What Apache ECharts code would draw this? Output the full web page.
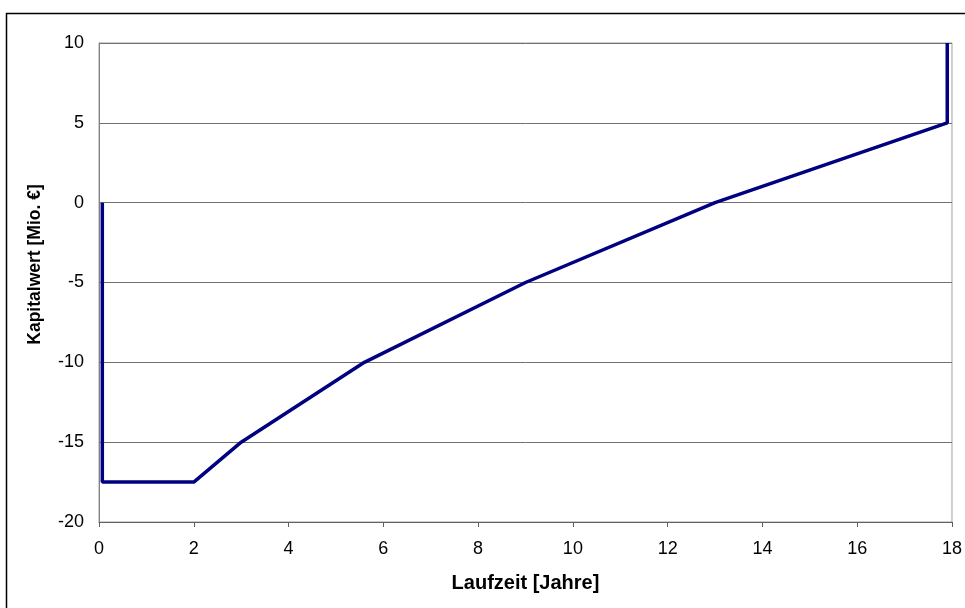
<!DOCTYPE html>
<html><head><meta charset="utf-8">
<script src="https://cdn.jsdelivr.net/npm/echarts@6/dist/echarts.min.js"></script>
<style>html,body{margin:0;padding:0;background:#fff}#c{width:965px;height:608px}</style>
</head><body><div id="c"></div>
<script>
const xValues = [0.07, 0.07, 2, 3, 5.6, 9, 13, 17.9, 17.9];
const yValues = [0, -17.5, -17.5, -15, -10, -5, 0, 5, 10];
const xTitle = 'Laufzeit [Jahre]';
const yTitle = 'Kapitalwert [Mio. €]';
const points = xValues.map((x, i) => [x, yValues[i]]);
const chart = echarts.init(document.getElementById('c'), null, {renderer: 'canvas'});
chart.setOption({
  animation: false,
  backgroundColor: '#fff',
  graphic: [{type: 'rect', shape: {x: 6.5, y: 13.5, width: 1200, height: 1200}, style: {fill: 'none', stroke: '#000', lineWidth: 1.5}, silent: true}],
  grid: {left: 99, right: 13, top: 43, bottom: 86, show: true, borderColor: '#a0a0a0', borderWidth: 1},
  xAxis: {
    type: 'value', min: 0, max: 18, interval: 2,
    name: xTitle, nameLocation: 'middle', nameGap: 51,
    nameTextStyle: {fontFamily: 'Liberation Sans, Arial', fontSize: 20, fontWeight: 'bold', color: '#000'},
    axisLine: {show: true, onZero: false, lineStyle: {color: '#606060', width: 1}},
    axisTick: {show: true, inside: false, length: 5, lineStyle: {color: '#606060'}},
    axisLabel: {margin: 18, fontFamily: 'Liberation Sans, Arial', fontSize: 18, color: '#000'},
    splitLine: {show: false}
  },
  yAxis: {
    type: 'value', min: -20, max: 10, interval: 5,
    name: yTitle, nameLocation: 'middle', nameGap: 55, nameRotate: 90,
    nameTextStyle: {fontFamily: 'Liberation Sans, Arial', fontSize: 17.5, fontWeight: 'bold', color: '#000', padding: [0, 0, 0, 36]},
    axisLine: {show: true, lineStyle: {color: '#808080', width: 1}},
    axisTick: {show: false},
    axisLabel: {margin: 15, fontFamily: 'Liberation Sans, Arial', fontSize: 18, color: '#000'},
    splitLine: {show: true, lineStyle: {color: '#707070', width: 1}}
  },
  series: [{
    type: 'line', data: points, showSymbol: false, symbol: 'none',
    lineStyle: {color: '#000080', width: 3.5}, silent: true
  }]
});
</script></body></html>
